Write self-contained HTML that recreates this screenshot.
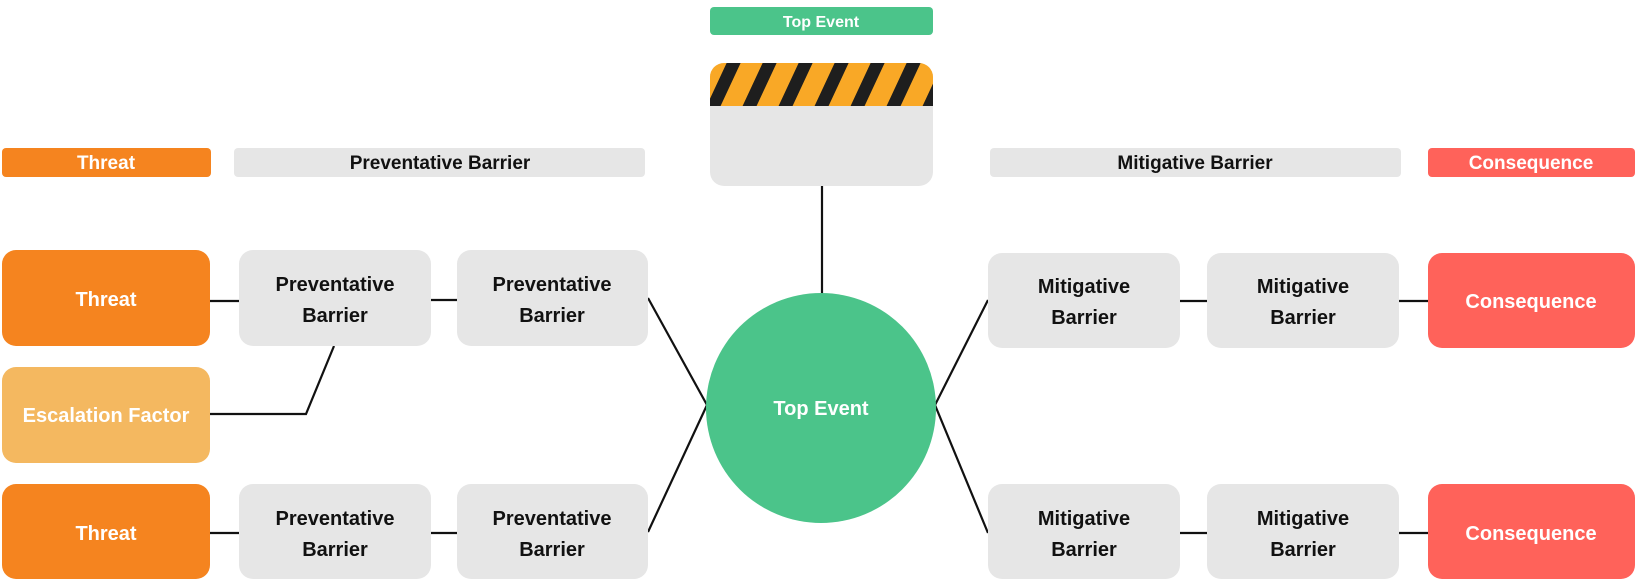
<!DOCTYPE html>
<html><head><meta charset="utf-8"><style>
html,body{margin:0;padding:0;background:#fff;}
svg{display:block;}
text{font-family:"Liberation Sans",Arial,sans-serif;font-weight:bold;}
</style></head><body>
<svg width="1638" height="584" viewBox="0 0 1638 584" xmlns="http://www.w3.org/2000/svg">
<defs>
<pattern id="st" patternUnits="userSpaceOnUse" width="36" height="44" patternTransform="skewX(-25)">
<rect width="36" height="44" fill="#F9A826"/><rect x="0" width="14" height="44" fill="#1e1e1e"/>
</pattern>
<clipPath id="cp"><rect x="710" y="63" width="223" height="123" rx="14"/></clipPath>
</defs>
<g stroke="#111" stroke-width="2.2" fill="none">
<line x1="822" y1="186" x2="822" y2="295"/>
<line x1="210" y1="301" x2="239" y2="301"/>
<line x1="431" y1="300" x2="457" y2="300"/>
<line x1="210" y1="533" x2="239" y2="533"/>
<line x1="431" y1="533" x2="457" y2="533"/>
<line x1="1180" y1="301" x2="1207" y2="301"/>
<line x1="1399" y1="301" x2="1428" y2="301"/>
<line x1="1180" y1="533" x2="1207" y2="533"/>
<line x1="1399" y1="533" x2="1428" y2="533"/>
<polyline points="210,414 306,414 334,346"/>
<polyline points="648,298 707,405 648,532"/>
<polyline points="988,300 935,405 988,533"/>
</g>
<rect x="710" y="7" width="223" height="28" rx="4" fill="#4BC48A"/>
<text x="821" y="27" font-size="16" fill="#fff" text-anchor="middle">Top Event</text>
<g clip-path="url(#cp)">
<rect x="710" y="63" width="223" height="123" fill="#E6E6E6"/>
<rect x="710" y="63" width="223" height="43" fill="url(#st)"/>
</g>
<rect x="2" y="148" width="209" height="29" rx="4" fill="#F5841F"/>
<text x="106" y="169" font-size="19" fill="#fff" text-anchor="middle">Threat</text>
<rect x="234" y="148" width="411" height="29" rx="4" fill="#E6E6E6"/>
<text x="440" y="169" font-size="19" fill="#111" text-anchor="middle">Preventative Barrier</text>
<rect x="990" y="148" width="411" height="29" rx="4" fill="#E6E6E6"/>
<text x="1195" y="169" font-size="19" fill="#111" text-anchor="middle">Mitigative Barrier</text>
<rect x="1428" y="148" width="207" height="29" rx="4" fill="#FF625A"/>
<text x="1531" y="169" font-size="19" fill="#fff" text-anchor="middle">Consequence</text>
<g font-size="20" text-anchor="middle">
<rect x="2" y="250" width="208" height="96" rx="14" fill="#F5841F"/>
<text x="106" y="306" fill="#fff">Threat</text>
<rect x="239" y="250" width="192" height="96" rx="14" fill="#E6E6E6"/>
<text x="335" y="291" fill="#111">Preventative</text><text x="335" y="322" fill="#111">Barrier</text>
<rect x="457" y="250" width="191" height="96" rx="14" fill="#E6E6E6"/>
<text x="552" y="291" fill="#111">Preventative</text><text x="552" y="322" fill="#111">Barrier</text>
<rect x="2" y="367" width="208" height="96" rx="14" fill="#F4B860"/>
<text x="106" y="422" fill="#fff">Escalation Factor</text>
<rect x="2" y="484" width="208" height="95" rx="14" fill="#F5841F"/>
<text x="106" y="540" fill="#fff">Threat</text>
<rect x="239" y="484" width="192" height="95" rx="14" fill="#E6E6E6"/>
<text x="335" y="525" fill="#111">Preventative</text><text x="335" y="556" fill="#111">Barrier</text>
<rect x="457" y="484" width="191" height="95" rx="14" fill="#E6E6E6"/>
<text x="552" y="525" fill="#111">Preventative</text><text x="552" y="556" fill="#111">Barrier</text>
<rect x="988" y="253" width="192" height="95" rx="14" fill="#E6E6E6"/>
<text x="1084" y="293" fill="#111">Mitigative</text><text x="1084" y="324" fill="#111">Barrier</text>
<rect x="1207" y="253" width="192" height="95" rx="14" fill="#E6E6E6"/>
<text x="1303" y="293" fill="#111">Mitigative</text><text x="1303" y="324" fill="#111">Barrier</text>
<rect x="1428" y="253" width="207" height="95" rx="14" fill="#FF625A"/>
<text x="1531" y="308" fill="#fff">Consequence</text>
<rect x="988" y="484" width="192" height="95" rx="14" fill="#E6E6E6"/>
<text x="1084" y="525" fill="#111">Mitigative</text><text x="1084" y="556" fill="#111">Barrier</text>
<rect x="1207" y="484" width="192" height="95" rx="14" fill="#E6E6E6"/>
<text x="1303" y="525" fill="#111">Mitigative</text><text x="1303" y="556" fill="#111">Barrier</text>
<rect x="1428" y="484" width="207" height="95" rx="14" fill="#FF625A"/>
<text x="1531" y="540" fill="#fff">Consequence</text>
</g>
<circle cx="821" cy="408" r="115" fill="#4BC48A"/>
<text x="821" y="415" font-size="20" fill="#fff" text-anchor="middle">Top Event</text>
</svg>
</body></html>
